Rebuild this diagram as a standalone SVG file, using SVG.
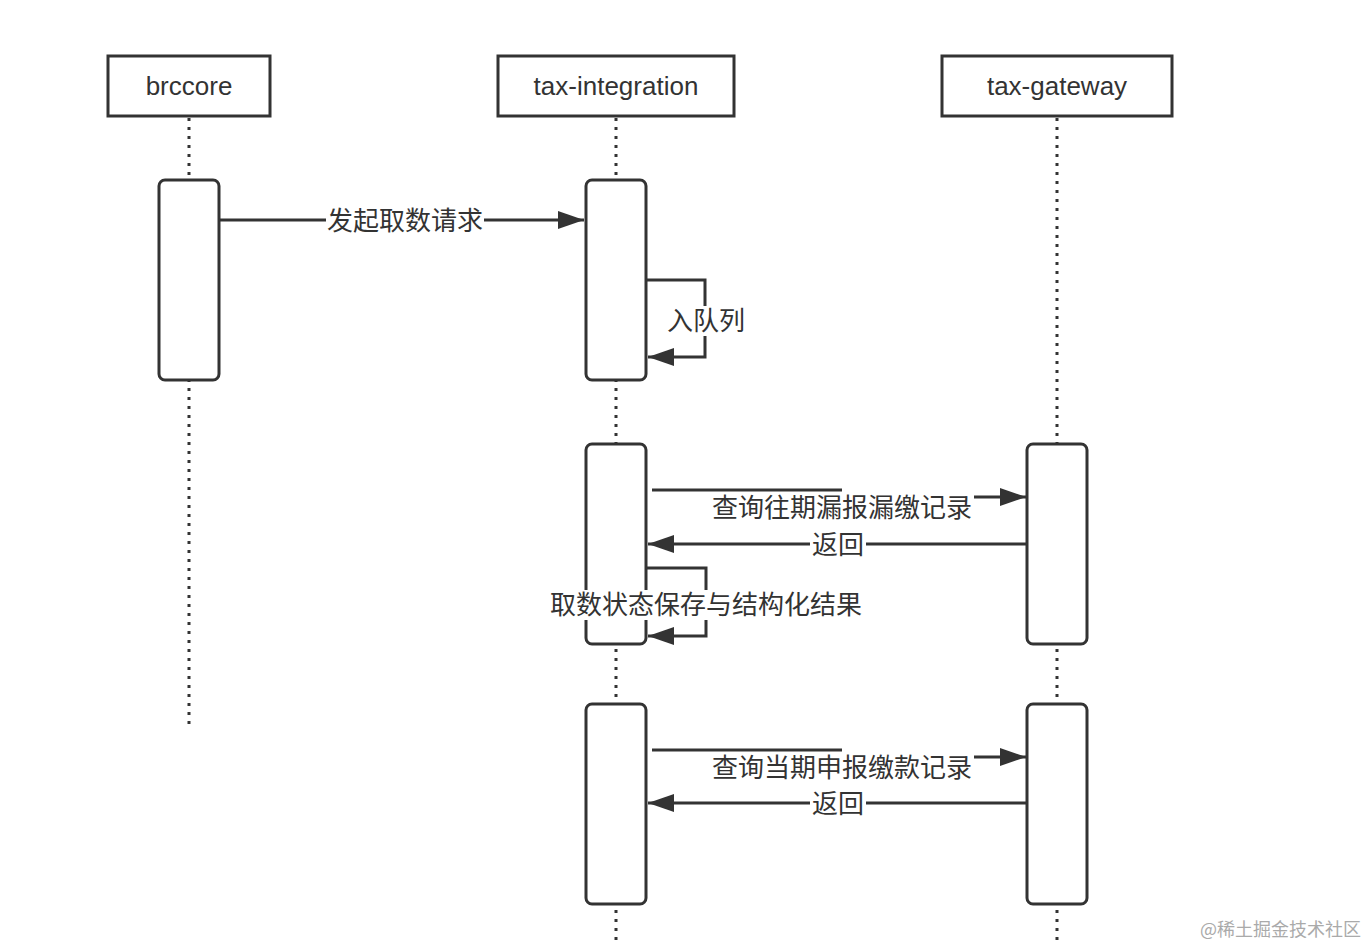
<svg xmlns="http://www.w3.org/2000/svg" width="1366" height="946" viewBox="0 0 1366 946">
<style>
.box{fill:#fff;stroke:#333;stroke-width:3}
.act{fill:#fff;stroke:#333;stroke-width:3}
.life{stroke:#333;stroke-width:3;stroke-dasharray:3 6;fill:none}
.ln{stroke:#333;stroke-width:3;fill:none}
.bg{fill:#fff}
.t{font-family:"Liberation Sans","Noto Sans CJK SC",sans-serif;font-size:26px;fill:#333;text-anchor:middle;dominant-baseline:central}
.wm{font-family:"Noto Sans CJK SC",sans-serif;font-size:18px;fill:#aaa}
</style>
<defs>
<marker id="ah" markerWidth="26" markerHeight="18" refX="26" refY="9" orient="auto" markerUnits="userSpaceOnUse">
<path d="M0,0 L26,9 L0,18 Z" fill="#333"/>
</marker>
</defs>
<rect width="1366" height="946" fill="#fff"/>
<g id="lifelines">
<line class="life" x1="189" y1="118" x2="189" y2="730"/>
<line class="life" x1="616" y1="118" x2="616" y2="940"/>
<line class="life" x1="1057" y1="118" x2="1057" y2="940"/>
</g>
<g id="brccore">
<rect class="box" x="108" y="56" width="162" height="60"/>
<text class="t" x="189" y="86">brccore</text>
</g>
<g id="tax-integration">
<rect class="box" x="498" y="56" width="236" height="60"/>
<text class="t" x="616" y="86">tax-integration</text>
</g>
<g id="tax-gateway">
<rect class="box" x="942" y="56" width="230" height="60"/>
<text class="t" x="1057" y="86">tax-gateway</text>
</g>
<g id="activations">
<rect class="act" x="159" y="180" width="60" height="200" rx="6"/>
<rect class="act" x="586" y="180" width="60" height="200" rx="6"/>
<rect class="act" x="586" y="444" width="60" height="200" rx="6"/>
<rect class="act" x="586" y="704" width="60" height="200" rx="6"/>
<rect class="act" x="1027" y="444" width="60" height="200" rx="6"/>
<rect class="act" x="1027" y="704" width="60" height="200" rx="6"/>
</g>
<g id="connectors">
<line class="ln" x1="219" y1="220" x2="584" y2="220" marker-end="url(#ah)"/>
<rect class="bg" x="326" y="206" width="158" height="30"/>
<text class="t" x="405" y="221">发起取数请求</text>

<path class="ln" d="M646,280 H705 V357 H648" marker-end="url(#ah)"/>
<rect class="bg" x="666" y="306" width="80" height="30"/>
<text class="t" x="706" y="321">入队列</text>

<line class="ln" x1="652" y1="490" x2="842" y2="490"/>
<line class="ln" x1="974" y1="497" x2="1026" y2="497" marker-end="url(#ah)"/>
<rect class="bg" x="710" y="493" width="264" height="30"/>
<text class="t" x="842" y="508">查询往期漏报漏缴记录</text>

<line class="ln" x1="1027" y1="544" x2="648" y2="544" marker-end="url(#ah)"/>
<rect class="bg" x="810" y="530" width="56" height="30"/>
<text class="t" x="838" y="545">返回</text>

<path class="ln" d="M646,568 H706 V636 H648" marker-end="url(#ah)"/>
<rect class="bg" x="550" y="590" width="312" height="30"/>
<text class="t" x="706" y="605">取数状态保存与结构化结果</text>

<line class="ln" x1="652" y1="750" x2="842" y2="750"/>
<line class="ln" x1="974" y1="757" x2="1026" y2="757" marker-end="url(#ah)"/>
<rect class="bg" x="710" y="753" width="264" height="30"/>
<text class="t" x="842" y="768">查询当期申报缴款记录</text>

<line class="ln" x1="1027" y1="803" x2="648" y2="803" marker-end="url(#ah)"/>
<rect class="bg" x="810" y="789" width="56" height="30"/>
<text class="t" x="838" y="804">返回</text>
</g>
<text class="wm" x="1200" y="936">@稀土掘金技术社区</text>
</svg>
